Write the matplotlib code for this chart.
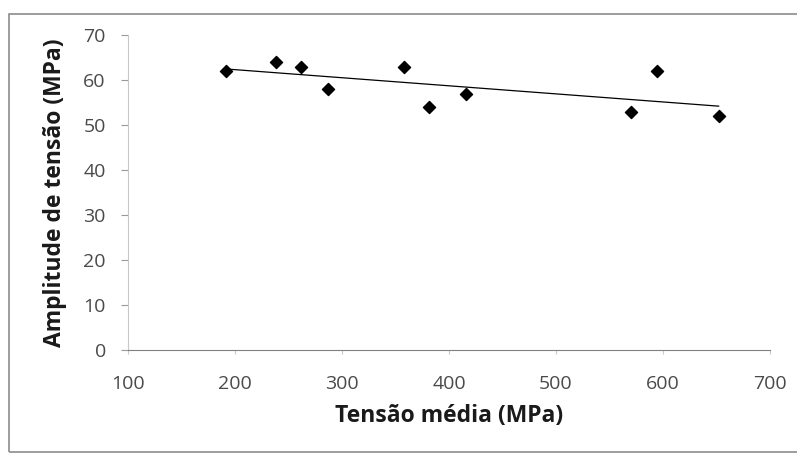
import numpy as np
import matplotlib
matplotlib.use("Agg")
import matplotlib.pyplot as plt
from matplotlib.patches import Rectangle

# Data
tensao_media = [192, 238, 262, 287, 358, 381, 416, 570, 594, 652]
amplitude = [62, 64, 63, 58, 63, 54, 57, 53, 62, 52]
x_ticks = [100, 200, 300, 400, 500, 600, 700]
y_ticks = [0, 10, 20, 30, 40, 50, 60, 70]
x_label = "Tensão média (MPa)"
y_label = "Amplitude de tensão (MPa)"

plt.rcParams['font.family'] = ['Open Sans', 'DejaVu Sans']

fig = plt.figure(figsize=(7.97, 4.58), dpi=100)
fig.patch.set_facecolor('white')
# outer chart border
fig.add_artist(Rectangle((9/797, 6/458), 1 - 9/797 + 0.01, 1 - 14/458 - 6/458,
                         transform=fig.transFigure, fill=False,
                         edgecolor='#8c8c8c', linewidth=1.2))

ax = fig.add_axes([128/797, 108/458, 642/797, 315/458])
ax.set_xlim(100, 700)
ax.set_ylim(0, 70)

ax.scatter(tensao_media, amplitude, marker='D', s=38, color='black', zorder=3)

# linear trendline
coef = np.polyfit(tensao_media, amplitude, 1)
xs = np.array([min(tensao_media), max(tensao_media)])
ax.plot(xs, np.polyval(coef, xs), color='black', linewidth=0.9, zorder=2)

ax.set_xticks(x_ticks)
ax.set_yticks(y_ticks)
for s in ['top', 'right']:
    ax.spines[s].set_visible(False)
ax.spines['left'].set_color('#c8c8c8')
ax.spines['bottom'].set_color('#808080')
ax.tick_params(axis='y', length=5, color='#9a9a9a', labelsize=14,
               labelcolor='#4a4a4a', pad=11)
ax.tick_params(axis='x', length=3, color='#c8c8c8', labelsize=14,
               labelcolor='#4a4a4a', pad=15)

ax.set_xlabel(x_label, fontsize=16.5, fontweight='bold', color='#1a1a1a', labelpad=8)
ax.set_ylabel(y_label, fontsize=16.5, fontweight='bold', color='#1a1a1a', labelpad=12)

fig.savefig("out.png", dpi=100)
